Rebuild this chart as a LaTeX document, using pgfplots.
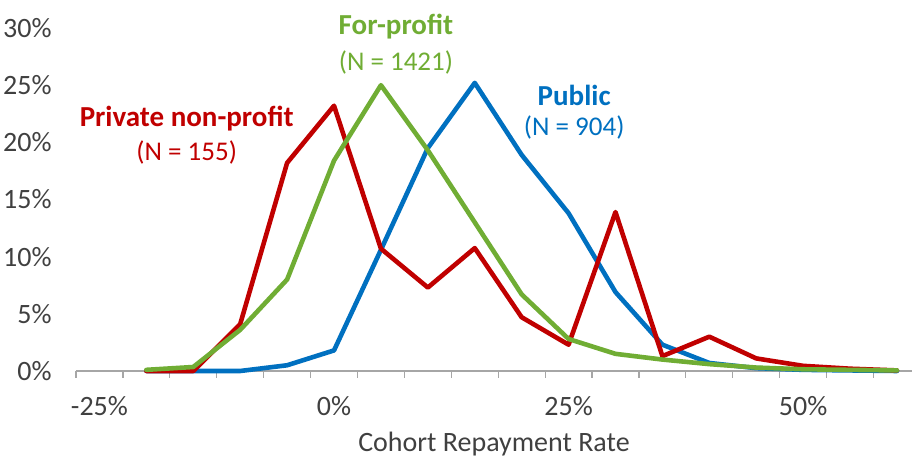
\documentclass[border=0pt]{standalone}
\usepackage{pgfplots}
\pgfplotsset{compat=1.18}
\usepackage{fontspec}
\setmainfont{Carlito}
\definecolor{cred}{RGB}{192,0,0}
\definecolor{cgreen}{RGB}{112,173,52}
\definecolor{cblue}{RGB}{0,112,192}
\definecolor{ctext}{RGB}{64,64,64}
\definecolor{cgrid}{RGB}{217,217,217}
\definecolor{caxis}{RGB}{166,166,166}
\begin{document}
\begin{tikzpicture}
\begin{axis}[
  scale only axis,
  width=418pt, height=171.5pt,
  xmin=-27.5, xmax=61.6,
  ymin=0, ymax=30,
  clip=false,
  axis x line*=bottom,
  axis y line=none,
  x axis line style={caxis, line width=0.6pt},
  xtick={-27.5,-22.5,...,57.5},
  xticklabels={},
  major tick length=3.5pt,
  xtick style={caxis, line width=0.6pt},
  xtick pos=bottom,
  tick align=outside,
  extra x ticks={-25,0,25,50},
  extra x tick labels={-25\%,0\%,25\%,50\%},
  extra x tick style={major tick length=0pt, grid=none},
  xticklabel style={font=\fontsize{14}{16}\selectfont, text=ctext, yshift=-9pt},
  xlabel={Cohort Repayment Rate},
  xlabel style={font=\fontsize{14}{16}\selectfont, text=ctext, yshift=2pt},
  ytick={0,5,...,30},
  ymajorgrids,
  grid style={cgrid, line width=0.6pt},
  /pgf/number format/assume math mode=true,
  every axis plot/.append style={line width=2.3pt, line join=round, line cap=round},
]
\pgfplotsinvokeforeach{0,5,10,15,20,25,30}{
  \node[anchor=east, inner sep=0pt, font=\fontsize{14}{16}\selectfont, text=ctext] at (axis cs:-27.5,#1) [xshift=-12pt] {#1\%};
}
\addplot[cblue] coordinates {
(-20,0) (-15,0) (-10,0) (-5,0.5) (0,1.8) (5,10.6) (10,19.5) (15,25.2) (20,18.9) (25,13.8) (30,6.9) (35,2.3) (40,0.7) (45,0.25) (50,0.1) (55,0.05) (60,0)
};
\addplot[cred] coordinates {
(-20,0) (-15,0) (-10,4.1) (-5,18.2) (0,23.2) (5,10.7) (10,7.3) (15,10.75) (20,4.7) (25,2.3) (30,13.9) (35,1.3) (40,3.0) (45,1.1) (50,0.45) (55,0.2) (60,0.05)
};
\addplot[cgreen] coordinates {
(-20,0.1) (-15,0.35) (-10,3.6) (-5,8.0) (0,18.4) (5,25.0) (10,19.3) (15,13.0) (20,6.7) (25,2.8) (30,1.5) (35,1.0) (40,0.6) (45,0.3) (50,0.15) (55,0.1) (60,0.05)
};
\node[text=cred, font=\fontsize{14.5}{16}\selectfont\bfseries] at (axis cs:-15.7,22.1) {Private non-profit};
\node[text=cred, font=\fontsize{13.5}{15}\selectfont] at (axis cs:-15.7,19.1) {(N = 155)};
\node[text=cgreen, font=\fontsize{14.5}{16}\selectfont\bfseries] at (axis cs:6.6,30.1) {For-profit};
\node[text=cgreen, font=\fontsize{13.5}{15}\selectfont] at (axis cs:6.6,27.0) {(N = 1421)};
\node[text=cblue, font=\fontsize{14.5}{16}\selectfont\bfseries] at (axis cs:25.6,24.1) {Public};
\node[text=cblue, font=\fontsize{13.5}{15}\selectfont] at (axis cs:25.6,21.3) {(N = 904)};
\end{axis}
\pgfresetboundingbox
\path[use as bounding box] (-38pt,-43.5pt) rectangle (418pt,185.5pt);
\end{tikzpicture}
\end{document}
